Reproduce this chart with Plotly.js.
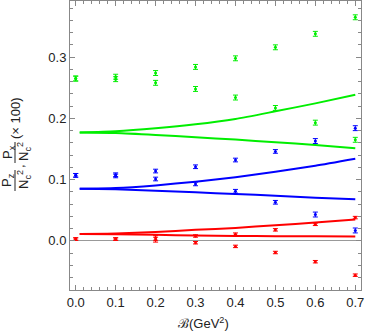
<!DOCTYPE html>
<html>
<head>
<meta charset="utf-8">
<script src="https://cdn.plot.ly/plotly-3.0.1.min.js"></script>
<style>
  html, body { margin: 0; padding: 0; background: #fff; }
  #myDiv { width: 366px; height: 334px; }
</style>
</head>
<body>
<div id="myDiv"></div>
<script>
// lattice points (B in GeV^2)
var xPts = [0.0, 0.1, 0.2, 0.3, 0.4, 0.5, 0.6, 0.7];

var greenUp = [0.265, 0.268, 0.274, 0.284, 0.298, 0.316, 0.338, 0.365];
var greenLo = [0.265, 0.264, 0.258, 0.248, 0.234, 0.217, 0.193, 0.165];
var greenErr = [0.004, 0.004, 0.004, 0.004, 0.004, 0.004, 0.004, 0.004];

var blueUp = [0.107, 0.108, 0.114, 0.121, 0.132, 0.146, 0.163, 0.184];
var blueLo = [0.107, 0.106, 0.101, 0.093, 0.081, 0.063, 0.043, 0.017];
var blueErr = [0.003, 0.003, 0.003, 0.003, 0.003, 0.003, 0.004, 0.004];

var redUp = [0.003, 0.003, 0.005, 0.008, 0.011, 0.018, 0.027, 0.038];
var redLo = [0.003, 0.003, 0.002, -0.003, -0.009, -0.019, -0.034, -0.056];
var redErr = [0.002, 0.002, 0.004, 0.002, 0.002, 0.002, 0.002, 0.002];

// model curves
var xLine = [0.01, 0.1, 0.2, 0.3, 0.4, 0.5, 0.6, 0.7];
var greenLineUp = [0.177, 0.1789, 0.1838, 0.1903, 0.199, 0.2115, 0.2245, 0.2385];
var greenLineLo = [0.177, 0.1761, 0.173, 0.1692, 0.1654, 0.161, 0.1567, 0.1513];
var blueLineUp = [0.0852, 0.0862, 0.0906, 0.0966, 0.104, 0.1128, 0.1226, 0.134];
var blueLineLo = [0.0852, 0.0841, 0.082, 0.0792, 0.0765, 0.0738, 0.0706, 0.0678];
var redLineUp = [0.0114, 0.012, 0.0146, 0.018, 0.0212, 0.0255, 0.030, 0.0348];
var redLineLo = [0.0114, 0.0109, 0.0098, 0.0088, 0.0081, 0.0076, 0.0076, 0.0072];

var GREEN = '#00ee00', BLUE = '#0000ff', RED = '#ff0000';

function pts(y, err, color) {
  return {
    x: xPts, y: y, mode: 'markers', type: 'scatter',
    marker: { size: 3, color: color },
    error_y: { type: 'data', array: err, visible: true, color: color, thickness: 1, width: 2.5 },
    showlegend: false, hoverinfo: 'x+y'
  };
}
function curve(y, color) {
  return {
    x: xLine, y: y, mode: 'lines', type: 'scatter',
    line: { color: color, width: 2, shape: 'spline', smoothing: 0.6 },
    showlegend: false
  };
}

var data = [
  curve(greenLineUp, GREEN), curve(greenLineLo, GREEN),
  curve(blueLineUp, BLUE), curve(blueLineLo, BLUE),
  curve(redLineUp, RED), curve(redLineLo, RED),
  pts(greenUp, greenErr, GREEN), pts(greenLo, greenErr, GREEN),
  pts(blueUp, blueErr, BLUE), pts(blueLo, blueErr, BLUE),
  pts(redUp, redErr, RED), pts(redLo, redErr, RED)
];

// helpers to place things in pixel terms around the plot area
var L = 70, R = 5, T = 1, B = 44, W = 366, H = 334;
var pw = W - L - R, ph = H - T - B;
function px(x) { return (x - L) / pw; }
function py(y) { return (H - B - y) / ph; }

var FONT = 'Liberation Sans, Arial, sans-serif';
function rot(text, x, y, size) {
  return {
    xref: 'paper', yref: 'paper', x: px(x), y: py(y), text: text,
    showarrow: false, textangle: -90, xanchor: 'center', yanchor: 'middle',
    font: { family: FONT, size: size, color: '#222' }
  };
}
function bar(x, y0, y1) {
  return {
    type: 'line', xref: 'paper', yref: 'paper',
    x0: px(x), x1: px(x), y0: py(y0), y1: py(y1),
    line: { color: '#222', width: 1 }
  };
}

var axisCommon = {
  showline: true, linecolor: '#888', linewidth: 1, mirror: 'ticks',
  ticks: 'inside', ticklen: 5, tickcolor: '#888', tickwidth: 1,
  showgrid: false, tickformat: '.1f',
  tickfont: { family: FONT, size: 13, color: '#222' },
  minor: { dtick: 0.02, ticks: 'inside', ticklen: 3, tickcolor: '#888', showgrid: false }
};

var layout = {
  width: W, height: H,
  margin: { l: L, r: R, t: T, b: B, pad: 0 },
  paper_bgcolor: '#fff', plot_bgcolor: '#fff',
  xaxis: Object.assign({}, axisCommon, {
    range: [-0.0143, 0.7143], tick0: 0, dtick: 0.1, zeroline: false,
    minor: Object.assign({}, axisCommon.minor, { tick0: 0 })
  }),
  yaxis: Object.assign({}, axisCommon, {
    range: [-0.0802, 0.3916], tick0: 0, dtick: 0.1,
    zeroline: true, zerolinecolor: '#999', zerolinewidth: 1,
    minor: Object.assign({}, axisCommon.minor, { tick0: 0 })
  }),
  annotations: [
    {
      xref: 'paper', yref: 'paper', x: px(203), y: py(323),
      text: 'ℬ(GeV<sup>2</sup>)', showarrow: false,
      xanchor: 'center', yanchor: 'middle',
      font: { family: FONT, size: 13, color: '#222' }
    },
    rot('P<sub>z</sub>', 8, 180, 13),
    rot('N<sub>c</sub><sup>2</sup>', 24, 180, 13),
    rot(',', 19, 166, 13),
    rot('P<sub>x</sub>', 8, 152, 13),
    rot('N<sub>c</sub><sup>2</sup>', 24, 152, 13),
    rot('(× 100)', 15, 118, 13)
  ],
  shapes: [
    bar(15, 170, 191),
    bar(15, 142, 163)
  ]
};

Plotly.newPlot('myDiv', data, layout, { displayModeBar: false, staticPlot: true });
</script>
</body>
</html>
